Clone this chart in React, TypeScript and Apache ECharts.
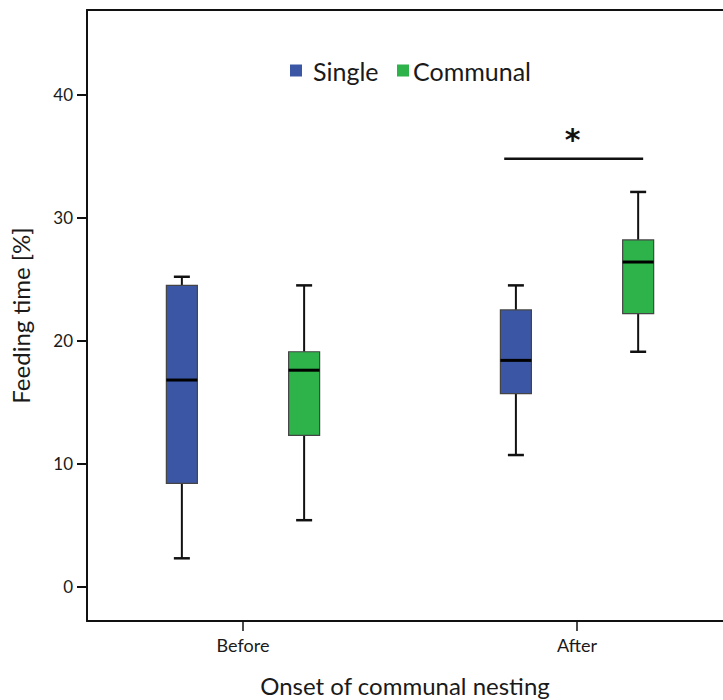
import React, { useEffect, useRef } from "react";
import * as echarts from "echarts";

const categories = ["Before", "After"];
const seriesNames = ["Single", "Communal"];
// [min, Q1, median, Q3, max] per category
const singleStats = [
  [2.3, 8.4, 16.8, 24.5, 25.2],
  [10.7, 15.7, 18.4, 22.5, 24.5],
];
const communalStats = [
  [5.4, 12.3, 17.6, 19.1, 24.5],
  [19.1, 22.2, 26.4, 28.2, 32.1],
];
const yTicks = [0, 10, 20, 30, 40];
const sigLevel = 34.8;
const sigLabel = "*";

const COLORS = ["#3c56a6", "#2db34a"];
const FONT = "Lato";
const OFFSET = 0.183;

function boxRender(params: any, api: any) {
  const x = api.value(0);
  const mn = api.coord([x, api.value(1)]);
  const q1 = api.coord([x, api.value(2)]);
  const md = api.coord([x, api.value(3)]);
  const q3 = api.coord([x, api.value(4)]);
  const mx = api.coord([x, api.value(5)]);
  const cx = mn[0];
  const hw = 15.5;
  const cw = 8;
  const color = api.visual("color");
  const lineStyle = { stroke: "#111", lineWidth: 2 };
  return {
    type: "group",
    children: [
      { type: "line", shape: { x1: cx, y1: mx[1], x2: cx, y2: q3[1] }, style: lineStyle },
      { type: "line", shape: { x1: cx, y1: q1[1], x2: cx, y2: mn[1] }, style: lineStyle },
      { type: "line", shape: { x1: cx - cw, y1: mx[1], x2: cx + cw, y2: mx[1] }, style: { stroke: "#111", lineWidth: 2.5 } },
      { type: "line", shape: { x1: cx - cw, y1: mn[1], x2: cx + cw, y2: mn[1] }, style: { stroke: "#111", lineWidth: 2.5 } },
      {
        type: "rect",
        shape: { x: cx - hw, y: q3[1], width: hw * 2, height: q1[1] - q3[1] },
        style: { fill: color, stroke: "#444", lineWidth: 1.2 },
      },
      { type: "line", shape: { x1: cx - hw, y1: md[1], x2: cx + hw, y2: md[1] }, style: { stroke: "#000", lineWidth: 3 } },
    ],
  };
}

function sigRender(params: any, api: any) {
  const a = api.coord([api.value(0), api.value(2)]);
  const b = api.coord([api.value(1), api.value(2)]);
  const mid = (a[0] + b[0]) / 2;
  return {
    type: "group",
    children: [
      { type: "line", shape: { x1: a[0], y1: a[1], x2: b[0], y2: b[1] }, style: { stroke: "#111", lineWidth: 2.5 } },
      {
        type: "text",
        x: mid - 1,
        y: a[1] - 19,
        style: { text: sigLabel, fontSize: 30, fontWeight: "bold", fontFamily: "DejaVu Sans", fill: "#111", align: "center", verticalAlign: "middle" },
      },
    ],
  };
}

export default function App() {
  const ref = useRef<HTMLDivElement>(null);
  useEffect(() => {
    if (!ref.current) return;
    const chart = echarts.init(ref.current, null, { renderer: "svg" });
    const axisLine = { show: true, onZero: false, lineStyle: { color: "#111", width: 2 } };
    const legendBase = {
      top: 58,
      icon: "rect",
      itemWidth: 12,
      itemHeight: 12,
      padding: 0,
    };
    chart.setOption({
      animation: false,
      backgroundColor: "#fff",
      grid: { left: 87, top: 10, right: 0, bottom: 79, containLabel: false, outerBoundsMode: "none" },
      legend: [
        {
          ...legendBase,
          data: [seriesNames[0]],
          left: 290,
          textStyle: { fontSize: 25, fontFamily: FONT, color: "#1a1a1a", padding: [0, 0, 0, 6] },
        },
        {
          ...legendBase,
          data: [seriesNames[1]],
          left: 397,
          textStyle: { fontSize: 25, fontFamily: FONT, color: "#1a1a1a", padding: [0, 0, 0, -1] },
        },
      ],
      xAxis: [
        {
          type: "value",
          min: 0.533,
          max: 2.437,
          axisLine,
          splitLine: { show: false },
          axisTick: { show: true, customValues: [1, 2], length: 10, lineStyle: { color: "#111", width: 1.5 } },
          axisLabel: {
            customValues: [1, 2],
            formatter: (v: number) => categories[Math.round(v) - 1] ?? "",
            fontSize: 18,
            fontFamily: FONT,
            color: "#1a1a1a",
            margin: 15,
          },
          name: "Onset of communal nesting",
          nameLocation: "middle",
          nameGap: 52,
          nameTextStyle: { fontSize: 24, fontFamily: FONT, color: "#1a1a1a" },
        },
        {
          type: "value",
          position: "top",
          min: 0.533,
          max: 2.437,
          axisLine,
          axisTick: { show: false },
          axisLabel: { show: false },
          splitLine: { show: false },
        },
      ],
      yAxis: {
        type: "value",
        min: -2.8,
        max: 46.9,
        axisLine,
        splitLine: { show: false },
        axisTick: { show: true, customValues: yTicks, length: 10, lineStyle: { color: "#111", width: 2 } },
        axisLabel: { customValues: yTicks, fontSize: 17, fontFamily: FONT, color: "#1a1a1a", margin: 14 },
        name: "Feeding time [%]",
        nameLocation: "middle",
        nameGap: 55,
        nameTextStyle: { fontSize: 24, fontFamily: FONT, color: "#1a1a1a" },
      },
      series: [
        {
          name: seriesNames[0],
          type: "custom",
          itemStyle: { color: COLORS[0] },
          renderItem: boxRender,
          data: categories.map((_, i) => [i + 1 - OFFSET, ...singleStats[i]]),
        },
        {
          name: seriesNames[1],
          type: "custom",
          itemStyle: { color: COLORS[1] },
          renderItem: boxRender,
          data: categories.map((_, i) => [i + 1 + OFFSET, ...communalStats[i]]),
        },
        {
          type: "custom",
          renderItem: sigRender,
          data: [[2 - OFFSET - 0.035, 2 + OFFSET + 0.015, sigLevel]],
        },
      ],
    });
    return () => chart.dispose();
  }, []);
  return (
    <div style={{ position: "fixed", left: 0, top: 0, width: 723, height: 700, overflow: "hidden", background: "#fff" }}>
      <div ref={ref} style={{ width: 723, height: 700 }} />
    </div>
  );
}
